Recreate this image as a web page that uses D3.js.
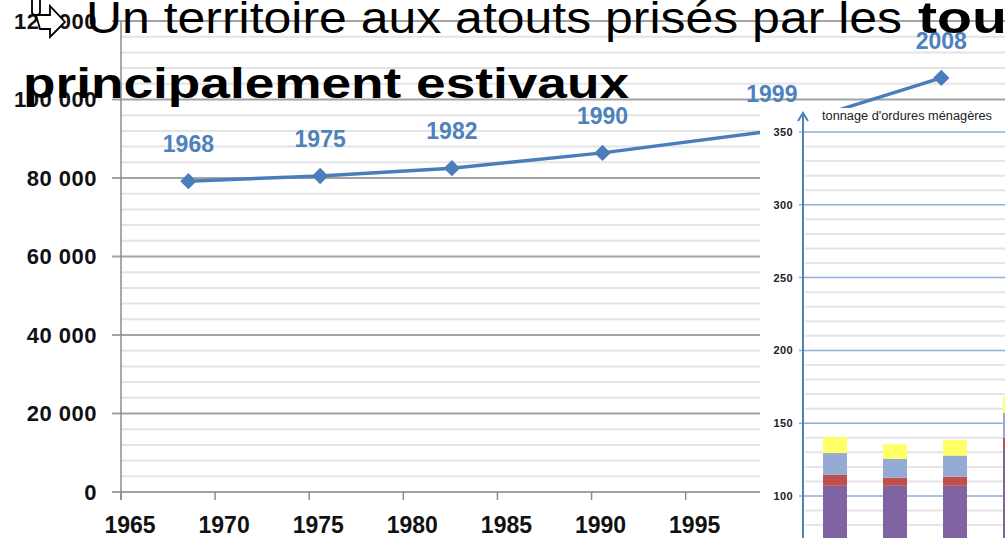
<!DOCTYPE html>
<html>
<head>
<meta charset="utf-8">
<script src="https://cdn.jsdelivr.net/npm/d3@7"></script>
<style>
  body { margin: 0; background: #fff; }
  svg { display: block; font-family: "Liberation Sans", Arial, sans-serif; }
</style>
</head>
<body>
<div id="chart"></div>
<script>
// population line (census years)
const censusYears = [1968, 1975, 1982, 1990, 1999, 2008];
const population = [79200, 80500, 82500, 86400, 92000, 105500];
const popTicks = [0, 20000, 40000, 60000, 80000, 100000, 120000];
const yearTicks = [1965, 1970, 1975, 1980, 1985, 1990, 1995, 2000, 2005, 2010];

// inset: stacked household waste tonnage
const wasteBars = ["b1", "b2", "b3", "b4"];
const wasteKeys = ["s1", "s2", "s3", "s4"];
const wasteS1 = [107, 107, 107, 133];
const wasteS2 = [7.5, 5.5, 6.3, 7];
const wasteS3 = [15, 13, 14.5, 17];
const wasteS4 = [11, 10, 10.5, 11];
const wasteTicks = [100, 150, 200, 250, 300, 350];
const wasteColours = ["#8064a2", "#c0504d", "#95abd3", "#ffff66"];

const width = 1005, height = 538;

const svg = d3.select("#chart")
  .append("svg")
    .attr("width", width)
    .attr("height", height);

// ---------- main line chart ----------
const x = d3.scaleLinear()
  .domain([1965, 2010])
  .range([121, 968]);

const y = d3.scaleLinear()
  .domain([0, 120000])
  .range([492, 21]);

// points sit a little right of the year ticks
const pointShift = 0.58;

const main = svg.append("g").attr("class", "main");

// minor grid every 4000
const minorTicks = d3.range(4000, 120000, 4000).filter(function (d) { return d % 20000 != 0; });
main.selectAll(".minor")
  .data(minorTicks)
  .enter().append("line")
  .attr("class", "minor")
  .attr("x1", x(1965))
  .attr("x2", width)
  .attr("y1", function (d) { return y(d); })
  .attr("y2", function (d) { return y(d); })
  .attr("stroke", "#e4e4e4")
  .attr("stroke-width", 2);

// major grid + ticks
main.selectAll(".major")
  .data(popTicks)
  .enter().append("line")
  .attr("class", "major")
  .attr("x1", x(1965) - 9)
  .attr("x2", width)
  .attr("y1", function (d) { return y(d); })
  .attr("y2", function (d) { return y(d); })
  .attr("stroke", "#a3a3a3")
  .attr("stroke-width", 2);

// y axis line
main.append("line")
  .attr("x1", x(1965)).attr("x2", x(1965))
  .attr("y1", y(120000)).attr("y2", y(0) + 8)
  .attr("stroke", "#8c8c8c")
  .attr("stroke-width", 1.5);

// x ticks
main.selectAll(".xtick")
  .data(yearTicks)
  .enter().append("line")
  .attr("class", "xtick")
  .attr("x1", function (d) { return x(d); })
  .attr("x2", function (d) { return x(d); })
  .attr("y1", y(0))
  .attr("y2", y(0) + 8)
  .attr("stroke", "#8c8c8c")
  .attr("stroke-width", 1.5);

main.selectAll(".xlabel")
  .data(yearTicks)
  .enter().append("text")
  .attr("class", "xlabel")
  .attr("x", function (d) { return x(d) + 9; })
  .attr("y", 533)
  .attr("text-anchor", "middle")
  .style("font-size", "23px")
  .style("font-weight", "bold")
  .style("fill", "#111")
  .text(function (d) { return d; });

main.selectAll(".ylabel")
  .data(popTicks)
  .enter().append("text")
  .attr("class", "ylabel")
  .attr("x", 97)
  .attr("y", function (d) { return y(d); })
  .attr("dy", "0.36em")
  .attr("text-anchor", "end")
  .style("font-size", "22px")
  .style("font-weight", "bold")
  .style("letter-spacing", "0.5px")
  .style("fill", "#111")
  .text(function (d) { return d3.format(",")(d).replace(/,/g, " "); });

const popData = censusYears.map(function (yr, i) { return { year: yr, value: population[i] }; });

const line = d3.line()
  .x(function (d) { return x(d.year + pointShift); })
  .y(function (d) { return y(d.value); });

main.append("path")
  .datum(popData)
  .attr("d", line)
  .attr("fill", "none")
  .attr("stroke", "#4a7ebb")
  .attr("stroke-width", 3.5);

main.selectAll(".marker")
  .data(popData)
  .enter().append("path")
  .attr("class", "marker")
  .attr("d", d3.symbol().type(d3.symbolDiamond2).size(170))
  .attr("transform", function (d) { return "translate(" + x(d.year + pointShift) + "," + y(d.value) + ")"; })
  .attr("fill", "#4a7ebb");

main.selectAll(".plabel")
  .data(popData)
  .enter().append("text")
  .attr("class", "plabel")
  .attr("x", function (d) { return x(d.year + pointShift); })
  .attr("y", function (d) { return y(d.value) - 29; })
  .attr("text-anchor", "middle")
  .style("font-size", "23px")
  .style("font-weight", "bold")
  .style("fill", "#4f81bd")
  .text(function (d) { return d.year; });

// ---------- inset stacked bars ----------
const inset = svg.append("g").attr("class", "inset");

inset.append("rect")
  .attr("x", 760).attr("y", 108)
  .attr("width", width - 760).attr("height", height - 108)
  .attr("fill", "#fff");

const yw = d3.scaleLinear()
  .domain([100, 350])
  .range([496, 132]);

const xw = d3.scaleBand()
  .domain(wasteBars)
  .range([805, 1045])
  .paddingInner(0.6)
  .paddingOuter(0.3);

const wasteMinor = d3.range(60, 360, 10).filter(function (d) { return d % 50 != 0; });
inset.selectAll(".wminor")
  .data(wasteMinor)
  .enter().append("line")
  .attr("class", "wminor")
  .attr("x1", 805).attr("x2", width)
  .attr("y1", function (d) { return yw(d); })
  .attr("y2", function (d) { return yw(d); })
  .attr("stroke", "#e4e4e4")
  .attr("stroke-width", 2);

inset.selectAll(".wmajor")
  .data(wasteTicks)
  .enter().append("line")
  .attr("class", "wmajor")
  .attr("x1", 799).attr("x2", width)
  .attr("y1", function (d) { return yw(d); })
  .attr("y2", function (d) { return yw(d); })
  .attr("stroke", "#8eaedb")
  .attr("stroke-width", 1.5);

inset.selectAll(".wlabel")
  .data(wasteTicks)
  .enter().append("text")
  .attr("class", "wlabel")
  .attr("x", 793)
  .attr("y", function (d) { return yw(d); })
  .attr("dy", "0.36em")
  .attr("text-anchor", "end")
  .style("font-size", "11px")
  .style("font-weight", "bold")
  .style("letter-spacing", "0.4px")
  .style("fill", "#222")
  .text(function (d) { return d; });

const wasteData = wasteBars.map(function (b, i) {
  return { bar: b, s1: wasteS1[i], s2: wasteS2[i], s3: wasteS3[i], s4: wasteS4[i] };
});

const stacked = d3.stack().keys(wasteKeys)(wasteData);

inset.selectAll(".stack")
  .data(stacked)
  .enter().append("g")
  .attr("class", "stack")
  .attr("fill", function (d, i) { return wasteColours[i]; })
  .selectAll("rect")
  .data(function (d) { return d; })
  .enter().append("rect")
  .attr("x", function (d) { return xw(d.data.bar); })
  .attr("y", function (d) { return yw(d[1]); })
  .attr("height", function (d) { return yw(d[0]) - yw(d[1]); })
  .attr("width", xw.bandwidth());

// axis with arrow head
inset.append("line")
  .attr("x1", 803).attr("x2", 803)
  .attr("y1", 113).attr("y2", height)
  .attr("stroke", "#4f81bd")
  .attr("stroke-width", 2);

inset.append("path")
  .attr("d", "M798,121 L803,113 L808,121")
  .attr("fill", "none")
  .attr("stroke", "#4f81bd")
  .attr("stroke-width", 2);

inset.append("text")
  .attr("x", 822)
  .attr("y", 120)
  .attr("textLength", 170)
  .attr("lengthAdjust", "spacingAndGlyphs")
  .style("font-size", "12.5px")
  .style("fill", "#222")
  .text("tonnage d'ordures ménagères");

// ---------- slide title on top ----------
const title = svg.append("g").attr("class", "title");

// bullet arrow
title.append("rect")
  .attr("x", 32).attr("y", -4)
  .attr("width", 8).attr("height", 19)
  .attr("rx", 3)
  .attr("fill", "#fff")
  .attr("stroke", "#000")
  .attr("stroke-width", 1.8);

title.append("path")
  .attr("d", "M36,15 L50,15 L50,6 L65,22 L50,37 L50,29 L40,29 Z")
  .attr("fill", "#fff")
  .attr("stroke", "#000")
  .attr("stroke-width", 1.8)
  .attr("stroke-linejoin", "miter");

title.append("text")
  .attr("x", 86)
  .attr("y", 33)
  .attr("textLength", 816)
  .attr("lengthAdjust", "spacingAndGlyphs")
  .style("font-size", "44px")
  .style("fill", "#000")
  .text("Un territoire aux atouts prisés par les");

title.append("text")
  .attr("transform", "translate(918,33) scale(1.3,1)")
  .style("font-size", "44px")
  .style("font-weight", "bold")
  .style("fill", "#000")
  .text("touristes");

title.append("text")
  .attr("x", 23)
  .attr("y", 98)
  .attr("textLength", 606)
  .attr("lengthAdjust", "spacingAndGlyphs")
  .style("font-size", "43px")
  .style("font-weight", "bold")
  .style("fill", "#000")
  .text("principalement estivaux");
</script>
</body>
</html>
